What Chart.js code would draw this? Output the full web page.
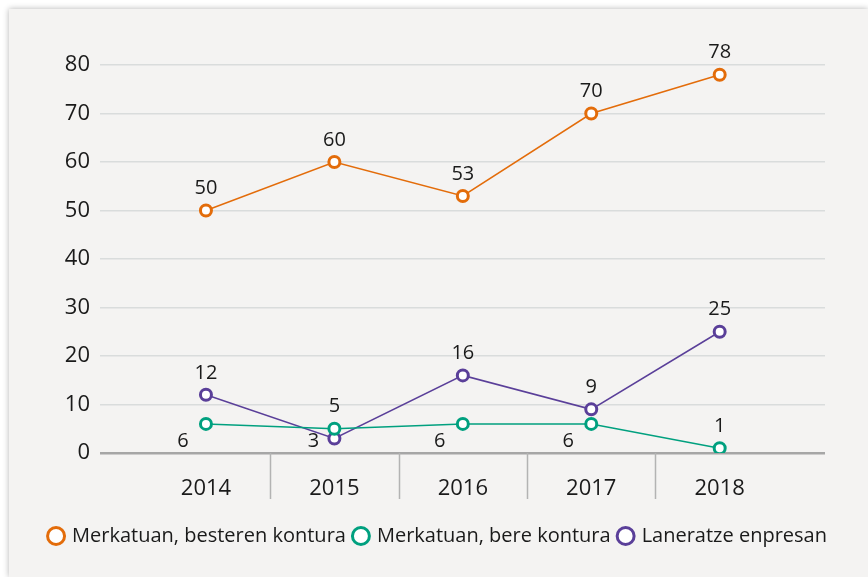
<!DOCTYPE html>
<html>
<head>
<meta charset="utf-8">
<script src="https://cdn.jsdelivr.net/npm/chart.js@4"></script>
<style>
  html, body { margin: 0; padding: 0; background: #fff; }
  #card {
    position: absolute; left: 9px; top: 9px; width: 859px; height: 568px;
    background: #f4f3f2; box-shadow: 0 0 6px rgba(0,0,0,0.3);
  }
  canvas { display: block; }
</style>
</head>
<body>
<div id="card"><canvas id="chart" width="859" height="568"></canvas></div>
<script>
// Chart data
const years = ['2014', '2015', '2016', '2017', '2018'];
const besteren = [50, 60, 53, 70, 78];
const bere = [6, 5, 6, 6, 1];
const laneratze = [12, 3, 16, 9, 25];

const seriesNames = ['Merkatuan, besteren kontura', 'Merkatuan, bere kontura', 'Laneratze enpresan'];
const seriesColors = ['#e36c0a', '#00a07f', '#5a3f99'];

// where each value label goes relative to its point
const labelPlacement = [
  ['top', 'top', 'top', 'top', 'top'],
  ['lowleft', 'top', 'lowleft', 'lowleft', 'top'],
  ['top', 'left', 'top', 'top', 'top']
];

const fontFamily = "'Open Sans', 'Noto Sans', sans-serif";

const toPoints = arr => arr.map((v, i) => ({ x: i, y: v }));

function makeDataset(name, values, color) {
  return {
    label: name,
    data: toPoints(values),
    borderColor: color,
    backgroundColor: '#ffffff',
    borderWidth: 1.5,
    pointRadius: 5.5,
    pointHoverRadius: 5.5,
    pointBorderWidth: 3,
    pointBackgroundColor: '#ffffff',
    pointBorderColor: color,
    pointStyle: 'circle',
    tension: 0
  };
}

// value labels next to the points
const valueLabels = {
  id: 'valueLabels',
  afterDatasetsDraw(chart) {
    const ctx = chart.ctx;
    ctx.save();
    ctx.font = '20px ' + fontFamily;
    ctx.fillStyle = '#1a1a1a';
    ctx.textAlign = 'center';
    ctx.textBaseline = 'middle';
    chart.data.datasets.forEach((ds, d) => {
      const meta = chart.getDatasetMeta(d);
      meta.data.forEach((pt, i) => {
        const place = labelPlacement[d][i];
        let x = pt.x, y = pt.y;
        if (place === 'top') { y -= 22; }
        else if (place === 'lowleft') { x -= 23; y += 17; }
        else if (place === 'left') { x -= 21; y += 3; }
        ctx.fillText(String(ds.data[i].y), x, y);
      });
    });
    ctx.restore();
  }
};

// vertical separators between the year labels
const yearSeparators = {
  id: 'yearSeparators',
  afterDraw(chart) {
    const xs = chart.scales.x;
    const bottom = chart.chartArea.bottom;
    const ctx = chart.ctx;
    ctx.save();
    ctx.strokeStyle = '#b3b3b3';
    ctx.lineWidth = 1.5;
    for (let i = 0; i < years.length - 1; i++) {
      const px = Math.round(xs.getPixelForValue(i + 0.5)) + 0.5;
      ctx.beginPath();
      ctx.moveTo(px, bottom);
      ctx.lineTo(px, bottom + 46);
      ctx.stroke();
    }
    ctx.restore();
  }
};

new Chart(document.getElementById('chart'), {
  type: 'line',
  data: {
    datasets: [
      makeDataset(seriesNames[0], besteren, seriesColors[0]),
      makeDataset(seriesNames[1], bere, seriesColors[1]),
      makeDataset(seriesNames[2], laneratze, seriesColors[2])
    ]
  },
  options: {
    responsive: false,
    animation: false,
    layout: { padding: { top: 56, right: 0, left: 0, bottom: 21 } },
    plugins: {
      tooltip: { enabled: false },
      legend: {
        position: 'bottom',
        labels: {
          usePointStyle: true,
          boxWidth: 12,
          boxHeight: 12,
          padding: 9,
          color: '#1a1a1a',
          font: { family: fontFamily, size: 20 }
        }
      }
    },
    scales: {
      x: {
        type: 'linear',
        min: -0.825,
        max: 4.82,
        afterBuildTicks: scale => { scale.ticks = years.map((_, i) => ({ value: i })); },
        afterFit: scale => { scale.height = 64; },
        grid: { display: false },
        border: { display: false },
        ticks: {
          padding: 15,
          color: '#1a1a1a',
          font: { family: fontFamily, size: 22 },
          callback: v => years[v]
        }
      },
      y: {
        min: 0,
        max: 80,
        afterFit: scale => { scale.width = 91; },
        border: { display: false },
        grid: {
          drawTicks: false,
          color: c => c.tick && c.tick.value === 0 ? '#a6a6a6' : '#d9dcdc',
          lineWidth: c => c.tick && c.tick.value === 0 ? 2.5 : 1.5
        },
        ticks: {
          stepSize: 10,
          padding: 10,
          color: '#1a1a1a',
          font: { family: fontFamily, size: 22 }
        }
      },
      // empty right axis that only reserves the right margin
      yRight: {
        position: 'right',
        min: 0,
        max: 80,
        afterFit: scale => { scale.width = 43; },
        border: { display: false },
        grid: { display: false },
        ticks: { display: false }
      }
    }
  },
  plugins: [valueLabels, yearSeparators]
});
</script>
</body>
</html>
